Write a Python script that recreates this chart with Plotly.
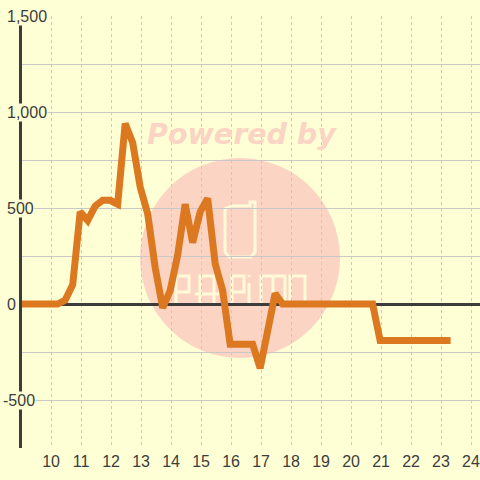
import plotly.graph_objects as go

hours = [8.87, 9.22, 9.47, 9.72, 9.97, 10.22, 10.47, 10.72, 10.97, 11.22, 11.47, 11.72, 11.97, 12.22, 12.47, 12.72, 12.97, 13.22, 13.47, 13.72, 13.97, 14.22, 14.47, 14.72, 14.97, 15.22, 15.47, 15.72, 15.97, 16.22, 16.47, 16.72, 16.97, 17.22, 17.47, 17.72, 17.97, 18.97, 19.97, 20.72, 20.97, 21.97, 22.97, 23.32]
values = [0, 0, 0, 0, 0, 0, 20, 100, 480, 435, 510, 540, 540, 520, 940, 840, 610, 470, 190, -20, 70, 255, 520, 320, 480, 550, 210, 70, -210, -210, -210, -210, -335, -130, 55, 0, 0, 0, 0, 0, -190, -190, -190, -190]
x_ticks = list(range(10, 25))
y_grid = [-750, -500, -250, 0, 250, 500, 750, 1000, 1250, 1500]
y_labels = {1500: "1,500", 1000: "1,000", 500: "500", 0: "0", -500: "-500"}

BG = "#FFFFD5"
INK = "#3C3C3C"
GRID = "#C8C8C8"
ORANGE = "#DC7820"
PINK = "#FBD4C4"
LOGO = "#FFFBD8"
LEFT = 22

fig = go.Figure()
fig.add_trace(go.Scatter(x=hours, y=values, mode="lines", cliponaxis=False,
                         line=dict(color=ORANGE, width=7), hoverinfo="skip", showlegend=False))

def px_x(px):
    return (px - LEFT) / (480 - LEFT)

def paper(px, py):
    return f"{px_x(px):.4f} {(448 - py) / 432:.4f}"

shapes = [dict(type="circle", xref="paper", yref="paper", x0=px_x(140), x1=px_x(340),
               y0=(448 - 358) / 432, y1=(448 - 158) / 432, fillcolor=PINK, line_width=0, layer="below")]

def stroke(points):
    path = "M " + " L ".join(paper(*p) for p in points)
    shapes.append(dict(type="path", xref="paper", yref="paper", path=path, layer="below",
                       line=dict(color=LOGO, width=3)))

stroke([(231, 206), (250, 206), (250, 202), (255, 202), (255, 252), (251, 257), (229, 257), (225, 252), (225, 209), (231, 206)])
stroke([(176, 305), (176, 276), (189, 276), (189, 292), (176, 292)])
stroke([(200, 305), (200, 276), (214, 276), (214, 305)])
stroke([(195, 294), (219, 294)])
stroke([(232, 305), (232, 276), (244, 276), (244, 292), (232, 292)])
stroke([(249, 305), (249, 283)])
stroke([(249, 277), (249, 275)])
stroke([(261, 305), (261, 276), (285, 276), (285, 305)])
stroke([(273, 305), (273, 276)])
stroke([(290, 305), (290, 276), (305, 276), (305, 305), (290, 305)])

annotations = [dict(text="<b><i>Powered by</i></b>", xref="paper", yref="paper", x=px_x(241.5),
                    y=(448 - 135) / 432, showarrow=False, xanchor="center", yanchor="middle",
                    font=dict(family="DejaVu Sans", size=28.5, color=PINK))]
for v, label in y_labels.items():
    annotations.append(dict(text=label, xref="paper", yref="y", x=0, y=v, showarrow=False,
                            xanchor="left", yanchor="middle", bgcolor=BG, borderpad=0,
                            xshift=-16 if v != -500 else -20,
                            font=dict(family="Liberation Sans", size=16, color=INK)))

fig.update_layout(
    width=480, height=480, autosize=False,
    margin=dict(l=LEFT, r=0, t=16, b=32),
    paper_bgcolor=BG, plot_bgcolor=BG, showlegend=False,
    shapes=shapes, annotations=annotations,
    xaxis=dict(range=[9.03, 24.3], tickvals=x_ticks, ticks="", showline=False, zeroline=False,
               showgrid=True, gridcolor=GRID, griddash="dot", gridwidth=1, ticklabelstandoff=2,
               layer="below traces",
               tickfont=dict(family="Liberation Sans", size=16, color=INK)),
    yaxis=dict(range=[-750, 1500], tickvals=y_grid, showticklabels=False, ticks="",
               showgrid=True, gridcolor=GRID, gridwidth=1, zeroline=True, zerolinecolor=INK,
               zerolinewidth=3, showline=True, linecolor=INK, linewidth=3, layer="below traces"),
)
fig.write_html("out.html", config=dict(displayModeBar=False),
               post_script="document.body.style.margin='0';document.body.style.background='#FFFFD5';")
